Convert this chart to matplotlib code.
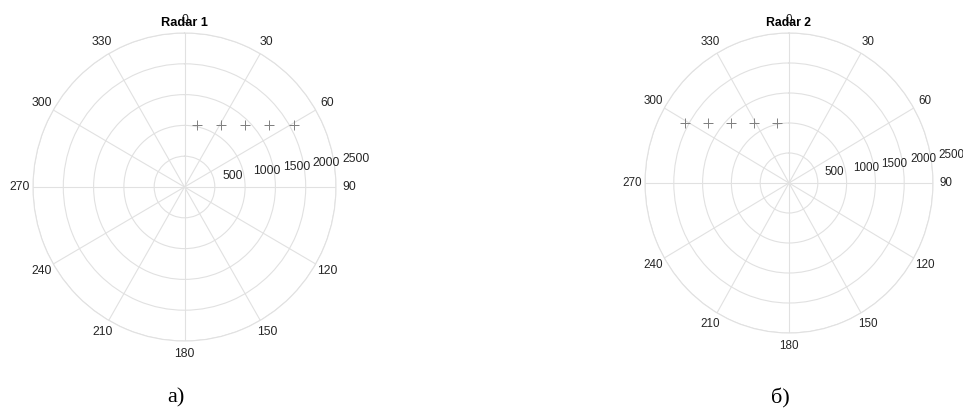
import matplotlib
matplotlib.use("Agg")
import matplotlib.pyplot as plt
import numpy as np

# Target positions (east / north offsets, metres) seen by each radar
RADAR1_X = [200, 600, 1000, 1400, 1800]
RADAR1_Y = [1000, 1000, 1000, 1000, 1000]
RADAR2_X = [-200, -600, -1000, -1400, -1800]
RADAR2_Y = [1000, 1000, 1000, 1000, 1000]

R_TICKS = [500, 1000, 1500, 2000, 2500]
THETA_TICKS = list(range(0, 360, 30))
R_LABEL_ANGLE = 82

GRID = "#e1e1e1"
TEXT = "#262626"

plt.rcParams["font.family"] = ["Liberation Sans", "DejaVu Sans"]


def radar_axes(fig, rect, title, xs, ys, fs=8.8, rdx=6):
    ax = fig.add_axes(rect, projection="polar")
    ax.set_aspect("auto")
    ax.set_theta_zero_location("N")
    ax.set_theta_direction(-1)
    ax.set_rlim(0, R_TICKS[-1])
    ax.set_rticks(R_TICKS)
    ax.set_yticklabels([])
    ax.set_thetagrids(THETA_TICKS, [str(t) for t in THETA_TICKS])
    ax.grid(True, color=GRID, linewidth=0.8)
    ax.spines["polar"].set_color(GRID)
    ax.spines["polar"].set_linewidth(0.8)
    ax.tick_params(axis="x", labelsize=fs, pad=2.5, length=0, colors=TEXT)
    ax.tick_params(axis="y", length=0)

    # range labels sit just right of each ring, near the 90 deg spoke
    ang = np.deg2rad(R_LABEL_ANGLE)
    for r in R_TICKS:
        ax.annotate(str(r), xy=(ang, r), xytext=(rdx, 5),
                    textcoords="offset points", ha="left", va="center",
                    fontsize=fs, color=TEXT, annotation_clip=False)

    xs = np.asarray(xs, dtype=float)
    ys = np.asarray(ys, dtype=float)
    theta = np.arctan2(xs, ys)
    r = np.hypot(xs, ys)
    ax.plot(theta, r, linestyle="none", marker="+", markersize=7,
            markeredgewidth=0.7, color="#808080")

    ax.set_title(title, fontsize=fs + 0.4, fontweight="bold", y=1.0, pad=5,
                 zorder=10)
    return ax


W, H = 963, 412
fig = plt.figure(figsize=(W / 100, H / 100), dpi=100)

radar_axes(fig, [33 / W, (H - 341) / H, 303 / W, 308 / H], "Radar 1",
           RADAR1_X, RADAR1_Y)
radar_axes(fig, [645 / W, (H - 333) / H, 288 / W, 300 / H], "Radar 2",
           RADAR2_X, RADAR2_Y, fs=8.4, rdx=5)

fig.text(176 / W, 1 - 398 / H, "а)", fontsize=16, ha="center", va="center",
         family=["Liberation Serif", "DejaVu Serif"])
fig.text(780 / W, 1 - 398 / H, "б)", fontsize=16, ha="center", va="center",
         family=["Liberation Serif", "DejaVu Serif"])

fig.savefig("out.png", dpi=100)
